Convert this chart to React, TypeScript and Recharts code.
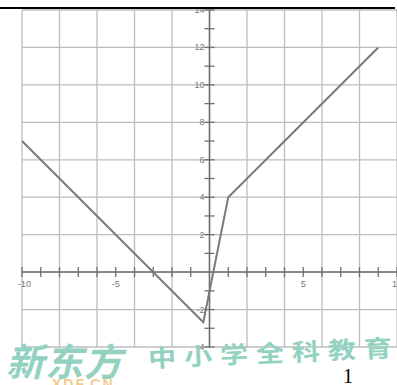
import { CartesianGrid, Line, LineChart, ReferenceDot, ReferenceLine, XAxis, YAxis } from "recharts"

// piecewise line
const pointX = [-10, -0.33, 1, 9]
const pointY = [7, -2.67, 4, 12]

const gridX = [-10, -8, -6, -4, -2, 0, 2, 4, 6, 8, 10]
const gridY = [-4, -2, 0, 2, 4, 6, 8, 10, 12, 14]

const tickX = [-10, -9, -8, -7, -6, -5, -4, -3, -2, -1, 1, 2, 3, 4, 5, 6, 7, 8, 9, 10]
const tickY = [-4, -3, -2, -1, 1, 2, 3, 4, 5, 6, 7, 8, 9, 10, 11, 12, 13, 14]

const labelX = [-10, -5, 5, 10]
const labelY = [-4, -2, 2, 4, 6, 8, 10, 12, 14]

const data = pointX.map((x, i) => ({ x, y: pointY[i] }))

const axisColor = "#6e6e6e"
const labelColor = "#777"

function XTick(props: any) {
  const { cx, cy, value } = props
  const showLabel = labelX.includes(value)
  return (
    <g>
      <line x1={cx} y1={cy - 5} x2={cx} y2={cy + 5} stroke={axisColor} strokeWidth={1.3} />
      {showLabel && (
        <text
          x={value === -10 ? cx + 9 : cx}
          y={cy + 15}
          textAnchor={value === -10 ? "end" : "middle"}
          fontSize={9}
          fill={labelColor}
          fontFamily="Liberation Sans, Arial, sans-serif"
        >
          {value}
        </text>
      )}
    </g>
  )
}

function YTick(props: any) {
  const { cx, cy, value } = props
  const showLabel = labelY.includes(value)
  return (
    <g>
      <line x1={cx - 5} y1={cy} x2={cx + 5} y2={cy} stroke={axisColor} strokeWidth={1.3} />
      {showLabel && (
        <text
          x={cx - 5}
          y={cy + 3}
          textAnchor="end"
          fontSize={9}
          fill={labelColor}
          fontFamily="Liberation Sans, Arial, sans-serif"
        >
          {value}
        </text>
      )}
    </g>
  )
}

export default function App() {
  return (
    <div
      style={{
        position: "absolute",
        left: 0,
        top: 0,
        width: 397,
        height: 385,
        overflow: "hidden",
        background: "#fff",
      }}
    >
      <LineChart width={397} height={385} data={data} margin={{ top: 10, right: 0, bottom: 38, left: 22 }}>
        <XAxis type="number" dataKey="x" domain={[-10, 10]} ticks={gridX} hide />
        <YAxis type="number" domain={[-4, 14]} ticks={gridY} hide />
        <CartesianGrid stroke="#bdbdbd" strokeWidth={1.3} />
        <ReferenceLine y={0} stroke={axisColor} strokeWidth={1.5} />
        <ReferenceLine x={0} stroke={axisColor} strokeWidth={1.5} />
        {tickX.map((v) => (
          <ReferenceDot key={"x" + v} x={v} y={0} r={0} ifOverflow="visible" shape={(p: any) => <XTick {...p} value={v} />} />
        ))}
        {tickY.map((v) => (
          <ReferenceDot key={"y" + v} x={0} y={v} r={0} ifOverflow="visible" shape={(p: any) => <YTick {...p} value={v} />} />
        ))}
        <Line
          type="linear"
          dataKey="y"
          stroke="#7a7a7a"
          strokeWidth={2}
          dot={false}
          isAnimationActive={false}
        />
      </LineChart>

      {/* black rule across the top */}
      <div style={{ position: "absolute", left: 0, top: 7, width: 395, height: 2, background: "#000" }} />

      {/* watermark */}
      <div
        style={{
          position: "absolute",
          left: 6,
          top: 338,
          fontSize: 38,
          fontWeight: 700,
          fontStyle: "italic",
          color: "#93d2c1",
          fontFamily: "Noto Sans CJK SC, sans-serif",
          lineHeight: "44px",
          letterSpacing: 1,
          whiteSpace: "nowrap",
        }}
      >
        新东方
      </div>
      <div
        style={{
          position: "absolute",
          left: 52,
          top: 376,
          fontSize: 14,
          fontWeight: 700,
          color: "#f3c98d",
          fontFamily: "Liberation Sans, Arial, sans-serif",
          letterSpacing: 2,
          lineHeight: "16px",
        }}
      >
        XDF.CN
      </div>
      <div
        style={{
          position: "absolute",
          left: 148,
          top: 340,
          fontSize: 28,
          fontWeight: 700,
          color: "#93d2c1",
          fontFamily: "Noto Sans CJK SC, sans-serif",
          lineHeight: "34px",
          letterSpacing: 8,
          whiteSpace: "nowrap",
          transform: "rotate(-2.5deg) scaleY(0.85)",
          transformOrigin: "left center",
        }}
      >
        中小学全科教育
      </div>
      <div
        style={{
          position: "absolute",
          left: 343,
          top: 364,
          fontSize: 20,
          color: "#000",
          fontFamily: "Liberation Serif, serif",
          lineHeight: "24px",
        }}
      >
        1
      </div>
    </div>
  )
}
